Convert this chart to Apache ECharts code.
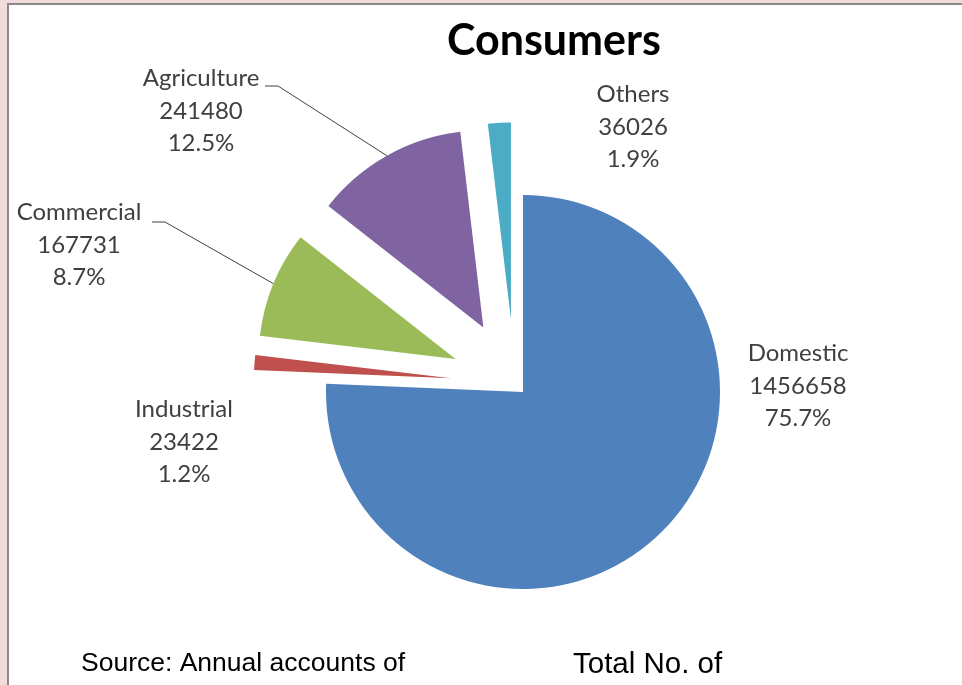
<!DOCTYPE html>
<html><head><meta charset="utf-8">
<script src="https://cdn.jsdelivr.net/npm/echarts@6/dist/echarts.min.js"></script>
<style>html,body{margin:0;padding:0;background:#f2dcdb}#c{width:962px;height:685px}</style>
</head><body><div id="c"></div>
<script>
// ---- data ----
const categories = ['Domestic', 'Industrial', 'Commercial', 'Agriculture', 'Others'];
const consumers = [1456658, 23422, 167731, 241480, 36026];
const colors = ['#4F81BD', '#C0504D', '#9BBB59', '#8064A2', '#4BACC6'];
const titleText = 'Consumers';
const sourceText = 'Source: Annual accounts of';
const totalText = 'Total No. of';

// ---- layout / style ----
const CX = 514.7, CY = 383.3, R = 197;
const explode = [12, 64, 64, 64, 64];
const labelPos = [[798, 386], [184, 442], [79, 245], [201, 111], [633, 127]];
const lineEnds = { 2: [[165, 222], [152, 222]], 3: [[278, 86], [265, 86]] };
const labelFont = 'Lato';

const total = consumers.reduce((a, b) => a + b, 0);
function midDir(i) {
  let s = 0;
  for (let k = 0; k < i; k++) s += consumers[k];
  const m = (s + consumers[i] / 2) / total * 2 * Math.PI;
  return [Math.sin(m), -Math.cos(m)];
}

const series = categories.map((cat, si) => {
  const d = midDir(si);
  const cx = CX + explode[si] * d[0], cy = CY + explode[si] * d[1];
  return {
    type: 'pie',
    silent: true,
    center: [cx, cy],
    radius: [0, R],
    startAngle: 90,
    clockwise: true,
    percentPrecision: 1,
    avoidLabelOverlap: false,
    emphasis: { disabled: true },
    label: {
      position: 'outside',
      formatter: '{b}\n{c}\n{d}%',
      fontFamily: labelFont,
      fontSize: 24,
      lineHeight: 32.5,
      color: '#404040',
      align: 'center'
    },
    labelLine: { show: !!lineEnds[si], lineStyle: { color: '#404040', width: 1 } },
    labelLayout: function (p) {
      const pos = labelPos[p.dataIndex];
      const o = { x: pos[0], y: pos[1], align: 'center', verticalAlign: 'middle' };
      if (lineEnds[p.dataIndex]) {
        const a = [cx + R * d[0], cy + R * d[1]];
        o.labelLinePoints = [a, lineEnds[p.dataIndex][0], lineEnds[p.dataIndex][1]];
      }
      return o;
    },
    data: categories.map((n, i) => ({
      name: n,
      value: consumers[i],
      itemStyle: { color: i === si ? colors[i] : 'rgba(0,0,0,0)' },
      label: { show: i === si },
      labelLine: { show: i === si && !!lineEnds[i] }
    }))
  };
});

const chart = echarts.init(document.getElementById('c'), null, { renderer: 'canvas' });
chart.setOption({
  backgroundColor: '#f2dcdb',
  animation: false,
  graphic: [{
    type: 'rect', z: -10, silent: true,
    shape: { x: 8, y: 4, width: 1000, height: 1000 },
    style: { fill: '#ffffff', stroke: '#8a8a8a', lineWidth: 2 }
  }],
  title: [
    { text: titleText, left: 442, top: 15, textStyle: { fontFamily: 'Lato', fontWeight: 'bold', fontSize: 43, color: '#000' } },
    { text: sourceText, left: 76, top: 645, textStyle: { fontFamily: 'Liberation Sans', fontWeight: 'normal', fontSize: 26.5, color: '#000' } },
    { text: totalText, left: 568, top: 645, textStyle: { fontFamily: 'Liberation Sans', fontWeight: 'normal', fontSize: 29.5, color: '#000' } }
  ],
  series: series
});
</script></body></html>
